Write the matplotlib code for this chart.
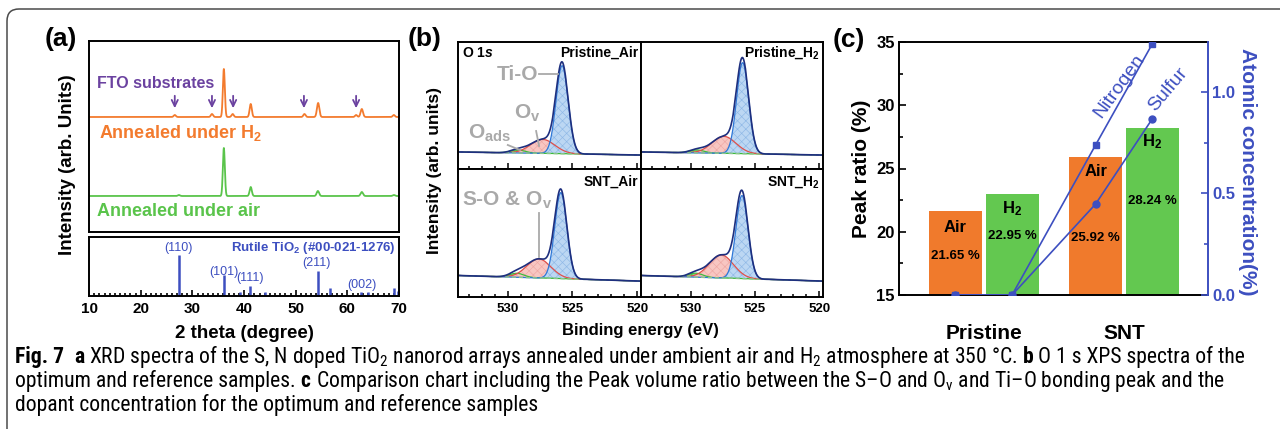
import numpy as np
import matplotlib
matplotlib.use('Agg')
import matplotlib.pyplot as plt
from matplotlib import font_manager as fm
from matplotlib.patches import FancyBboxPatch
from matplotlib.transforms import IdentityTransform, blended_transform_factory
from matplotlib.ticker import MultipleLocator

# ---------------- data ----------------
# (a) XRD patterns (peak list: position, height, width)
h2_peak_pos = [26.6, 33.8, 36.1, 37.8, 41.3, 51.7, 54.35, 61.7, 62.8, 69.0]
h2_peak_height = [2, 3, 48, 3, 13, 3, 14, 2, 8, 2]
h2_peak_fwhm = [0.5, 0.5, 0.45, 0.5, 0.5, 0.5, 0.55, 0.5, 0.55, 0.5]
air_peak_pos = [27.4, 36.1, 41.3, 54.3, 62.8, 69.0]
air_peak_height = [1, 48, 9, 5, 4, 1]
air_peak_fwhm = [0.5, 0.45, 0.5, 0.55, 0.55, 0.5]
fto_arrow_pos = [26.6, 33.8, 37.9, 51.6, 61.7]
rutile_pos = [27.45, 36.08, 39.2, 41.23, 44.05, 54.32, 56.62, 62.74, 64.04, 69.0, 69.8]
rutile_int = [0.69, 0.35, 0.06, 0.17, 0.07, 0.42, 0.14, 0.07, 0.07, 0.14, 0.085]
rutile_hkl = ['(110)', '(101)', '(111)', '(211)', '(002)']
rutile_hkl_pos = [27.4, 36.2, 41.2, 54.1, 62.8]

# (b) O 1s XPS fitted components
xps_samples = ['Pristine_Air', 'Pristine_H$_2$', 'SNT_Air', 'SNT_H$_2$']
tio_center = [525.8, 525.95, 525.9, 526.0]
tio_height = [88, 91, 86, 83]
tio_fwhm = [1.1, 1.1, 1.1, 1.1]
ov_center = [527.3, 527.4, 527.6, 527.6]
ov_height = [14, 17, 19, 23]
ov_fwhm = [2.2, 2.2, 2.2, 2.2]
oads_center = [529.2, 529.5, 529.3, 529.6]
oads_height = [3, 3, 4, 4]
oads_fwhm = [1.3, 1.3, 1.3, 1.3]
bg_right = [14, 14, 16, 16]
bg_slope = [0.22, 0.22, 0.4, 0.4]

# (c) peak ratio and dopant concentration
groups = ['Pristine', 'SNT']
peak_ratio_air = [21.65, 25.92]
peak_ratio_h2 = [22.95, 28.24]
nitrogen_conc = [0.0, 0.0, 0.739, 1.236]
sulfur_conc = [0.0, 0.0, 0.448, 0.867]

# ---------------- style ----------------
W, H = 1280, 429
ORANGE = '#f37b2e'
GREEN = '#5ac44b'
BAR_OR = '#f07a2c'
BAR_GR = '#63c850'
PURPLE = '#6b42a0'
BLUE = '#3d4fc0'
GRAY = '#a9a9a9'

plt.rcParams['font.family'] = ['Liberation Sans', 'DejaVu Sans']
plt.rcParams['font.weight'] = 'bold'
plt.rcParams['axes.labelweight'] = 'bold'
plt.rcParams['mathtext.fontset'] = 'custom'
plt.rcParams['mathtext.default'] = 'regular'
plt.rcParams['mathtext.it'] = 'Liberation Sans:italic:bold'
plt.rcParams['hatch.linewidth'] = 0.45
plt.rcParams['axes.linewidth'] = 1.4

ttf = fm.fontManager.ttflist
names = {f.name for f in ttf}
cap_family, cap_stretch = 'Liberation Sans', 'normal'
if 'Liberation Sans Narrow' in names:
    cap_family = 'Liberation Sans Narrow'
elif 'Roboto Condensed' in names:
    cap_family = 'Roboto Condensed'
elif any(f.name == 'DejaVu Sans' and f.stretch == 'condensed' for f in ttf):
    cap_family, cap_stretch = 'DejaVu Sans', 'condensed'
elif 'Open Sans Condensed' in names:
    cap_family = 'Open Sans Condensed'

fig = plt.figure(figsize=(W / 100, H / 100), dpi=100)
fig.patch.set_facecolor('white')


def add_px(x0, y0, x1, y1):
    return fig.add_axes([x0 / W, 1 - y1 / H, (x1 - x0) / W, (y1 - y0) / H])


def gauss(x, c, h, fwhm):
    s = fwhm / 2.3548
    return h * np.exp(-(x - c) ** 2 / (2 * s * s))


def peaks(x, pos, hts, fw):
    y = np.zeros_like(x)
    for p, h, w in zip(pos, hts, fw):
        y += gauss(x, p, h, w)
    return y

# frame
frame = FancyBboxPatch((7, -40), 1340, 460, boxstyle='round,pad=0,rounding_size=12',
                       transform=IdentityTransform(), fill=False, ec='#4a4a4a', lw=1.1)
fig.patches.append(frame)
frame.set_figure(fig)

# ---------------- (a) ----------------
axA = add_px(89, 41, 399, 232)
x = np.linspace(10, 70, 4000)
H2_OFF, AIR_OFF = 115, 36
axA.plot(x, H2_OFF + peaks(x, h2_peak_pos, h2_peak_height, h2_peak_fwhm), color=ORANGE, lw=1.3)
axA.plot(x, AIR_OFF + peaks(x, air_peak_pos, air_peak_height, air_peak_fwhm), color=GREEN, lw=1.3)
axA.set_xlim(10, 70)
axA.set_ylim(0, 191)
axA.set_xticks([])
axA.set_yticks([])
for p in fto_arrow_pos:
    axA.annotate('', xy=(p, 121), xytext=(p, 139),
                 arrowprops=dict(arrowstyle='->,head_length=0.45,head_width=0.22', color=PURPLE, lw=1.3))
axA.text(11.5, 148, 'FTO substrates', color=PURPLE, fontsize=11.5, fontweight='bold', va='center')
axA.text(12.0, 99, 'Annealed under H$_2$', color=ORANGE, fontsize=13, fontweight='bold', va='center')
axA.text(11.5, 20, 'Annealed under air', color=GREEN, fontsize=13, fontweight='bold', va='center')

axA2 = add_px(89, 237, 399, 296)
axA2.vlines(rutile_pos, 0, rutile_int, color=BLUE, lw=1.8)
axA2.set_xlim(10, 70)
axA2.set_ylim(0, 1)
axA2.set_yticks([])
axA2.xaxis.set_major_locator(MultipleLocator(10))
axA2.xaxis.set_minor_locator(MultipleLocator(1))
axA2.tick_params(axis='x', which='both', direction='in', top=False, labelsize=11, pad=4, width=1.2)
axA2.tick_params(axis='x', which='major', length=4)
axA2.tick_params(axis='x', which='minor', length=2.5)
hkl_y = [0.81, 0.41, 0.30, 0.56, 0.19]
for lab, p, yy in zip(rutile_hkl, rutile_hkl_pos, hkl_y):
    axA2.text(p, yy, lab, color=BLUE, fontsize=9, fontweight='normal', ha='center', va='center')
axA2.text(69.4, 0.81, 'Rutile TiO$_2$ (#00-021-1276)', color=BLUE, fontsize=9.5,
          fontweight='bold', ha='right', va='center')

fig.text(67 / W, 1 - 165 / H, 'Intensity (arb. Units)', rotation=90, fontsize=13.5,
         fontweight='bold', ha='center', va='center')
fig.text(244 / W, 1 - 333 / H, '2 theta (degree)', fontsize=13.5, fontweight='bold',
         ha='center', va='center')
fig.text(61 / W, 1 - 39 / H, '(a)', fontsize=19, fontweight='bold', ha='center', va='center')

# ---------------- (b) ----------------
boxes = [(458, 42, 641, 169), (641, 42, 823, 169), (458, 169, 641, 297), (641, 169, 823, 297)]
xe = np.linspace(519.5, 534.2, 2000)
axesB = []
for i, bx in enumerate(boxes):
    ax = add_px(*bx)
    axesB.append(ax)
    base = bg_right[i] + bg_slope[i] * (xe - 520)
    ti = gauss(xe, tio_center[i], tio_height[i], tio_fwhm[i])
    ov = gauss(xe, ov_center[i], ov_height[i], ov_fwhm[i])
    oa = gauss(xe, oads_center[i], oads_height[i], oads_fwhm[i])
    ax.fill_between(xe, base, base + oa, facecolor='#86e07e', edgecolor='#4cc04c', hatch='xxxx', lw=0)
    ax.fill_between(xe, base, base + ov, facecolor='#f8c6c2', edgecolor='#eea8a4', hatch='xxxx', lw=0)
    ax.fill_between(xe, base, base + ti, facecolor='#bcd7f3', edgecolor='#8fb8e6', hatch='xxxx', lw=0)
    ax.plot(xe, base + oa, color='#3cbc3c', lw=0.9)
    ax.plot(xe, base + ov, color='#e0504a', lw=0.9)
    ax.plot(xe, base + ti, color='#2f78d8', lw=0.9)
    ax.plot(xe, base, color='#8cc48c', lw=1.0, ls=(0, (3, 2)))
    ax.plot(xe, base + ti + ov + oa, color='#1e2f7e', lw=1.2)
    ax.set_xlim(533.85, 519.7)
    ax.set_ylim(0, 127 if i < 2 else 128)
    ax.set_yticks([])
    ax.xaxis.set_major_locator(MultipleLocator(5))
    ax.xaxis.set_minor_locator(MultipleLocator(1))
    ax.tick_params(axis='x', which='both', direction='in', top=False, labelsize=9.5, pad=4, width=1.1)
    ax.tick_params(axis='x', which='major', length=4)
    ax.tick_params(axis='x', which='minor', length=2.5)
    if i < 2:
        ax.tick_params(axis='x', labelbottom=False)
    yl = 0.913 if i < 2 else 0.898
    ax.text(0.984, yl, xps_samples[i], transform=ax.transAxes, ha='right', va='center',
            fontsize=10, fontweight='bold')

axesB[0].text(0.022, 0.913, 'O 1$\\mathit{s}$', transform=axesB[0].transAxes, ha='left',
              va='center', fontsize=10, fontweight='bold')
a0 = axesB[0]
a0.text(527.66, 95, 'Ti-O', color=GRAY, fontsize=15, fontweight='bold', ha='right', va='center')
a0.plot([527.55, 526.15], [95, 95], color=GRAY, lw=1.3)
a0.text(529.55, 56, 'O$_v$', color=GRAY, fontsize=15, fontweight='bold', ha='left', va='center')
a0.plot([527.81, 527.58], [38, 23], color=GRAY, lw=1.3)
a0.text(533.1, 36, 'O$_{ads}$', color=GRAY, fontsize=15, fontweight='bold', ha='left', va='center')
a0.plot([530.0, 529.05], [24, 19], color=GRAY, lw=1.3)
a2 = axesB[2]
a2.text(533.55, 97, 'S-O & O$_v$', color=GRAY, fontsize=15, fontweight='bold', ha='left', va='center')
a2.plot([527.58, 527.58], [84, 40], color=GRAY, lw=1.3)

fig.text(435 / W, 1 - 170 / H, 'Intensity (arb. units)', rotation=90, fontsize=12.5,
         fontweight='bold', ha='center', va='center')
fig.text(640 / W, 1 - 331 / H, 'Binding energy (eV)', fontsize=12, fontweight='bold',
         ha='center', va='center')
fig.text(425 / W, 1 - 39 / H, '(b)', fontsize=19, fontweight='bold', ha='center', va='center')

# ---------------- (c) ----------------
axC = add_px(899, 42, 1208, 295)
gx = np.arange(len(groups))
off, bw = 0.202, 0.379
axC.bar(gx - off, peak_ratio_air, width=bw, color=BAR_OR, zorder=1)
axC.bar(gx + off, peak_ratio_h2, width=bw, color=BAR_GR, zorder=1)
axC.set_ylim(15, 35)
axC.set_xlim(-0.605, 1.60)
axC.set_xticks([])
axC.yaxis.set_major_locator(MultipleLocator(5))
axC.yaxis.set_minor_locator(MultipleLocator(2.5))
axC.tick_params(axis='y', which='both', direction='in', labelsize=12, pad=3, width=1.2)
axC.tick_params(axis='y', which='major', length=5)
axC.tick_params(axis='y', which='minor', length=3)
axC.spines['right'].set_visible(False)

lab_name_y = [20.3, 21.8, 24.8, 27.1]
lab_pct_y = [18.08, 19.66, 19.5, 22.43]
bar_x = [gx[0] - off, gx[0] + off, gx[1] - off, gx[1] + off]
bar_vals = [peak_ratio_air[0], peak_ratio_h2[0], peak_ratio_air[1], peak_ratio_h2[1]]
bar_names = ['Air', 'H$_2$', 'Air', 'H$_2$']
for bxp, v, nm, yn, yp in zip(bar_x, bar_vals, bar_names, lab_name_y, lab_pct_y):
    axC.text(bxp, yn, nm, ha='center', va='center', fontsize=12, fontweight='bold', zorder=3)
    axC.text(bxp, yp, f'{v:.2f} %', ha='center', va='center', fontsize=9.5, fontweight='bold', zorder=3)

tb = blended_transform_factory(axC.transData, axC.transAxes)
for g, name in zip(gx, groups):
    axC.text(g, -0.152, name, transform=tb, ha='center', va='center', fontsize=15, fontweight='bold')
axC.set_ylabel('Peak ratio (%)', fontsize=15, fontweight='bold', labelpad=4)

axR = axC.twinx()
axR.plot(bar_x, nitrogen_conc, color=BLUE, lw=1.2, marker='s', ms=4.5, zorder=5)
axR.plot(bar_x, sulfur_conc, color=BLUE, lw=1.2, marker='o', ms=5, zorder=5)
axR.set_ylim(0, 1.246)
axR.yaxis.set_major_locator(MultipleLocator(0.5))
axR.yaxis.set_minor_locator(MultipleLocator(0.25))
axR.yaxis.set_major_formatter(matplotlib.ticker.FormatStrFormatter('%.1f'))
axR.tick_params(axis='y', which='both', direction='in', colors=BLUE, labelsize=12, pad=3, width=1.2)
axR.tick_params(axis='y', which='major', length=5)
axR.tick_params(axis='y', which='minor', length=3)
for s in ['left', 'top', 'bottom']:
    axR.spines[s].set_visible(False)
axR.spines['right'].set_color(BLUE)
axR.text(0.965, 1.03, 'Nitrogen', color=BLUE, rotation=54, fontsize=14, fontweight='normal',
         ha='center', va='center')
axR.text(1.316, 1.01, 'Sulfur', color=BLUE, rotation=50, fontsize=14, fontweight='normal',
         ha='center', va='center')
fig.text(1247 / W, 1 - 172 / H, 'Atomic concentration(%)', rotation=270, color=BLUE,
         fontsize=15, fontweight='bold', ha='center', va='center')
fig.text(849 / W, 1 - 40 / H, '(c)', fontsize=19, fontweight='bold', ha='center', va='center')

# ---------------- caption ----------------
renderer = fig.canvas.get_renderer()
cap_lines = [
    (363, [('Fig. 7', True), 2, ('a', True), 1,
           ('XRD spectra of the S, N doped TiO$_2$ nanorod arrays annealed under ambient air and H$_2$ atmosphere at 350 °C.', False),
           1, ('b', True), 1, ('O 1 s XPS spectra of the', False)]),
    (387, [('optimum and reference samples.', False), 1, ('c', True), 1,
           ('Comparison chart including the Peak volume ratio between the S\u2013O and O$_v$ and Ti\u2013O bonding peak and the', False)]),
    (411, [('dopant concentration for the optimum and reference samples', False)]),
]


def cap_text(x, y, s, fs, bold):
    return fig.text(x / W, 1 - y / H, s, fontsize=fs, family=cap_family, stretch=cap_stretch,
                    fontweight='bold' if bold else 'normal', ha='left', va='baseline')


def space_w(fs):
    t1 = cap_text(0, 0, 'n n', fs, False)
    t2 = cap_text(0, 0, 'nn', fs, False)
    w = t1.get_window_extent(renderer).width - t2.get_window_extent(renderer).width
    t1.remove(); t2.remove()
    return w


def draw_line(y, runs, fs):
    sw = space_w(fs)
    xcur = 15
    objs = []
    for r in runs:
        if isinstance(r, (int, float)):
            xcur += r * sw
            continue
        t = cap_text(xcur, y, r[0], fs, r[1])
        objs.append(t)
        xcur = t.get_window_extent(renderer).x1
    return objs, xcur - 15

fs0 = 13.5
objs, wline = draw_line(cap_lines[0][0], cap_lines[0][1], fs0)
for o in objs:
    o.remove()
fs = fs0 * 1230 / wline
for y, runs in cap_lines:
    draw_line(y, runs, fs)

fig.savefig('out.png', dpi=100, facecolor='white')
